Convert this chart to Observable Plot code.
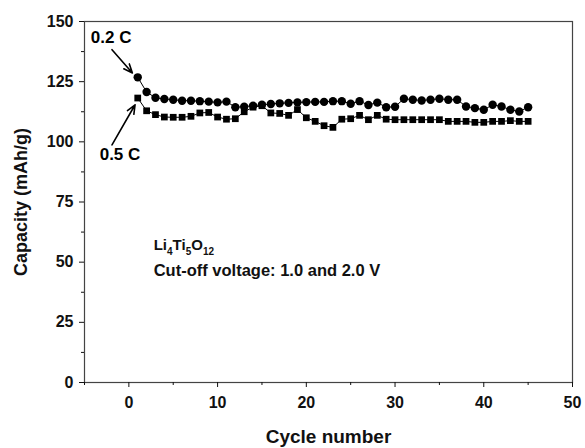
<!DOCTYPE html>
<html>
<head>
<meta charset="utf-8">
<script src="https://cdn.jsdelivr.net/npm/d3@7"></script>
<script src="https://cdn.jsdelivr.net/npm/@observablehq/plot@0.6"></script>
<style>
  html, body { margin: 0; padding: 0; background: #fff; }
  #chart svg { display: block; }
</style>
</head>
<body>
<div id="chart"></div>
<script>
// Cycle numbers 1..45
const cycles = [1,2,3,4,5,6,7,8,9,10,11,12,13,14,15,16,17,18,19,20,21,22,23,24,25,26,27,28,29,30,31,32,33,34,35,36,37,38,39,40,41,42,43,44,45];
// 0.2 C capacity (circles)
const cap02 = [126.8,120.7,118.3,117.8,117.5,117.1,117.1,116.9,116.7,116.4,116.7,114.4,114.6,115.0,115.4,115.7,116.0,116.2,116.4,116.5,116.6,116.6,116.9,116.9,115.8,116.9,115.3,116.3,114.4,114.6,117.9,117.5,117.2,117.5,117.9,117.5,117.5,114.7,114.0,113.3,115.4,114.7,113.3,112.6,114.4];
// 0.5 C capacity (squares)
const cap05 = [118.2,112.9,111.3,110.3,110.2,110.2,110.6,112.0,112.2,110.3,109.4,109.6,112.5,114.4,115.0,112.0,111.8,111.0,113.4,110.0,108.5,106.7,106.0,109.4,109.6,111.0,109.2,111.0,109.4,109.2,109.2,109.2,109.2,109.2,109.2,108.5,108.5,108.5,108.1,108.1,108.5,108.5,108.8,108.5,108.5];

const xMajorTicks = [0,10,20,30,40,50];
const xMinorTicks = [-5,5,15,25,35,45];
const yMajorTicks = [0,25,50,75,100,125,150];
const yMinorTicks = [12.5,37.5,62.5,87.5,112.5,137.5];

// Annotation labels (data coordinates)
const rateLabels = ["0.2 C", "0.5 C"];
const rateLabelX = [-2.0, -1.0];
const rateLabelY = [143.3, 94.6];
const arrowX1 = [-1.9, -1.9];
const arrowY1 = [138.3, 98.7];
const arrowX2 = [0.4, 0.7];
const arrowY2 = [128.6, 115.4];

const formulaText = ["Li4Ti5O12"];
const formulaX = [2.8];
const formulaY = [57];
const cutoffText = ["Cut-off voltage: 1.0 and 2.0 V"];
const cutoffX = [2.8];
const cutoffY = [46.5];

const s02 = cycles.map((c, i) => ({cycle: c, cap: cap02[i]}));
const s05 = cycles.map((c, i) => ({cycle: c, cap: cap05[i]}));
const labels = rateLabels.map((t, i) => ({t, x: rateLabelX[i], y: rateLabelY[i]}));
const arrows = arrowX1.map((x, i) => ({x1: x, y1: arrowY1[i], x2: arrowX2[i], y2: arrowY2[i]}));
const formula = formulaText.map((t, i) => ({t, x: formulaX[i], y: formulaY[i]}));
const cutoff = cutoffText.map((t, i) => ({t, x: cutoffX[i], y: cutoffY[i]}));

const font = "'Liberation Sans', Arial, Helvetica, sans-serif";

const chart = Plot.plot({
  width: 585,
  height: 448,
  marginLeft: 84,
  marginRight: 13,
  marginTop: 21,
  marginBottom: 66,
  style: {fontFamily: font, fontSize: "16px", fontWeight: "bold", color: "#111", background: "#fff"},
  x: {domain: [-5, 50]},
  y: {domain: [0, 150]},
  marks: [
    Plot.frame({stroke: "#444", strokeWidth: 1.2}),
    Plot.axisX(xMajorTicks, {tickSize: 5, tickPadding: 9, label: null, fontSize: 16}),
    Plot.axisX(xMinorTicks, {tickSize: 3, tickFormat: () => "", label: null}),
    Plot.axisY(yMajorTicks, {tickSize: 5, tickPadding: 6, label: null, fontSize: 16}),
    Plot.axisY(yMinorTicks, {tickSize: 3, tickFormat: () => "", label: null}),
    Plot.axisX({ticks: [], label: "Cycle number", labelAnchor: "center", labelOffset: 60, labelArrow: "none", fontSize: 19}),
    Plot.axisY({ticks: [], label: "Capacity (mAh/g)", labelAnchor: "center", labelOffset: 70, labelArrow: "none", fontSize: 18}),
    Plot.line(s02, {x: "cycle", y: "cap", stroke: "#000", strokeWidth: 1}),
    Plot.line(s05, {x: "cycle", y: "cap", stroke: "#000", strokeWidth: 1}),
    Plot.dot(s02, {x: "cycle", y: "cap", symbol: "circle", r: 4.2, fill: "#000"}),
    Plot.dot(s05, {x: "cycle", y: "cap", symbol: "square", r: 3.8, fill: "#000"}),
    Plot.arrow(arrows, {x1: "x1", y1: "y1", x2: "x2", y2: "y2", stroke: "#000", strokeWidth: 1.6, headLength: 9, headAngle: 45}),
    Plot.text(labels, {x: "x", y: "y", text: "t", fontSize: 17, fontWeight: "bold", fill: "#000"}),
    Plot.text(formula, {x: "x", y: "y", text: "t", textAnchor: "start", fontSize: 15, fontWeight: "bold", fill: "#111"}),
    Plot.text(cutoff, {x: "x", y: "y", text: "t", textAnchor: "start", fontSize: 16.5, fontWeight: "bold", fill: "#111"})
  ]
});

// Render subscripts in the chemical formula
d3.select(chart).selectAll("text").each(function() {
  const el = d3.select(this);
  if (el.text() === "Li4Ti5O12") {
    el.text(null);
    const parts = [["Li", false], ["4", true], ["Ti", false], ["5", true], ["O", false], ["12", true]];
    let first = true;
    for (const [s, sub] of parts) {
      const t = el.append("tspan").text(s);
      if (sub) t.attr("font-size", "10px").attr("dy", "5");
      else if (!first) t.attr("dy", "-5");
      first = false;
    }
  }
});

document.getElementById("chart").appendChild(chart);
</script>
</body>
</html>
